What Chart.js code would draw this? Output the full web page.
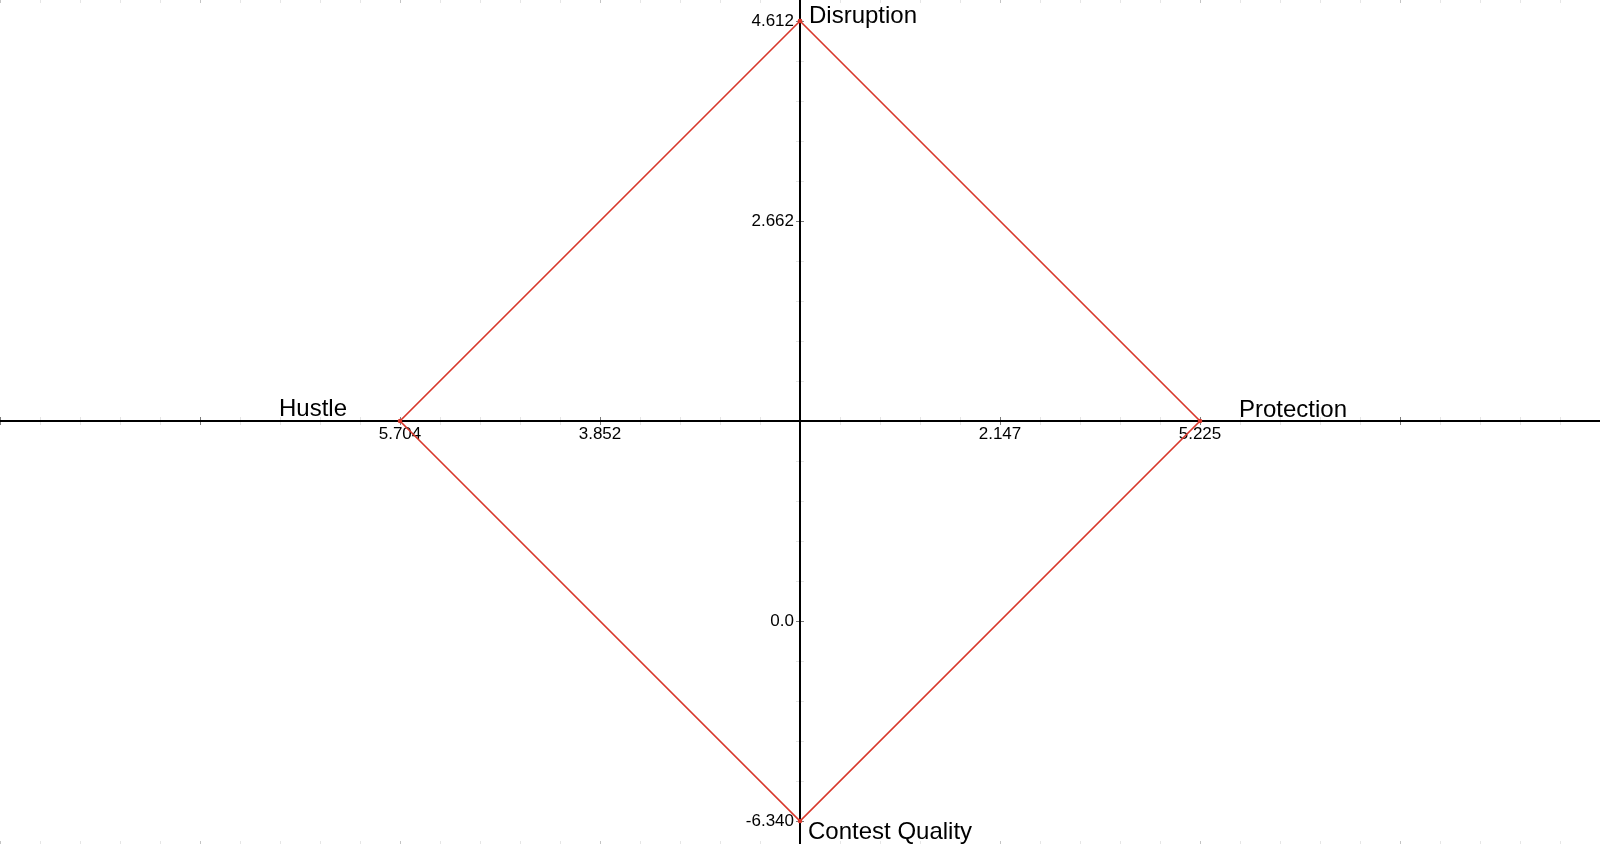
<!DOCTYPE html>
<html>
<head>
<meta charset="utf-8">
<script src="https://cdn.jsdelivr.net/npm/chart.js@4/dist/chart.umd.min.js"></script>
<style>
  html, body { margin: 0; padding: 0; background: #fff; }
  #wrap { width: 1600px; height: 844px; position: relative; }
</style>
</head>
<body>
<div id="wrap"><canvas id="chart"></canvas></div>
<script>
'use strict';
// categories at the four corners, in drawing order
const axisNames  = ['Disruption', 'Protection', 'Contest Quality', 'Hustle'];
const axisScores = [4.612, 5.225, -6.340, 5.704];
// corner position on the plot grid (units)
const cornerX = [0, 2, 0, -2];
const cornerY = [2, 0, -2, 0];

// tick labels on the two axes
const xTickPos    = [-2, -1, 1, 2];
const xTickLabels = ['5.704', '3.852', '2.147', '5.225'];
const yTickPos    = [2, 1, -1, -2];
const yTickLabels = ['4.612', '2.662', '0.0', '-6.340'];

const RED = '#d8382c';
const FONT = '"Liberation Sans", Arial, sans-serif';

// label offsets from each corner (px): [dx, dy], all left aligned on the baseline
const NAME_OFF = {
  'Disruption':      [9, 2],
  'Protection':      [39, -4],
  'Contest Quality': [8, 18],
  'Hustle':          [-121, -5]
};

const pts = axisNames.map((n, i) => ({ x: cornerX[i], y: cornerY[i], name: n, score: axisScores[i] }));
pts.push({ ...pts[0] });

const axesPlugin = {
  id: 'crossAxes',
  beforeDatasetsDraw(chart) {
    const { ctx, chartArea: a, scales: { x, y } } = chart;
    const x0 = x.getPixelForValue(0), y0 = y.getPixelForValue(0);
    ctx.save();

    // minor/major ticks every 0.2 units
    const tick = (horiz, v, major) => {
      ctx.strokeStyle = major ? '#7a7a7a' : '#e4e4e4';
      ctx.lineWidth = 1;
      ctx.beginPath();
      if (horiz) {
        const px = Math.round(x.getPixelForValue(v)) + 0.5;
        ctx.moveTo(px, y0 - 4); ctx.lineTo(px, y0 + 4);
      } else {
        const py = Math.round(y.getPixelForValue(v)) + 0.5;
        ctx.moveTo(x0 - 4, py); ctx.lineTo(x0 + 4, py);
      }
      ctx.stroke();
    };
    for (let i = -20; i <= 20; i++) {
      if (i === 0) continue;
      tick(true, i * 0.2, i % 5 === 0);
    }
    for (let i = -11; i <= 11; i++) {
      if (i === 0) continue;
      tick(false, i * 0.2, i % 5 === 0);
    }

    // faint ticks along top and bottom edges
    for (let i = -20; i <= 20; i++) {
      const px = Math.round(x.getPixelForValue(i * 0.2)) + 0.5;
      ctx.strokeStyle = i % 5 === 0 ? '#c4c4c4' : '#e6e6e6';
      ctx.beginPath();
      ctx.moveTo(px, a.top); ctx.lineTo(px, a.top + 3);
      ctx.moveTo(px, a.bottom - 3); ctx.lineTo(px, a.bottom);
      ctx.stroke();
    }

    // the two axis lines
    ctx.strokeStyle = '#000';
    ctx.lineWidth = 2;
    ctx.beginPath();
    ctx.moveTo(a.left, y0); ctx.lineTo(a.right, y0);
    ctx.moveTo(x0, a.top); ctx.lineTo(x0, a.bottom);
    ctx.stroke();

    // tick labels
    ctx.fillStyle = '#000';
    ctx.font = '17px ' + FONT;
    ctx.textAlign = 'center';
    ctx.textBaseline = 'top';
    xTickPos.forEach((v, i) => ctx.fillText(xTickLabels[i], x.getPixelForValue(v), y0 + 5));
    ctx.textAlign = 'right';
    ctx.textBaseline = 'middle';
    yTickPos.forEach((v, i) => ctx.fillText(yTickLabels[i], x0 - 6, y.getPixelForValue(v)));

    // corner names
    ctx.font = '24px ' + FONT;
    ctx.textAlign = 'left';
    ctx.textBaseline = 'alphabetic';
    axisNames.forEach((n, i) => {
      const off = NAME_OFF[n];
      ctx.fillText(n, x.getPixelForValue(cornerX[i]) + off[0], y.getPixelForValue(cornerY[i]) + off[1]);
    });
    ctx.restore();
  }
};

new Chart(document.getElementById('chart'), {
  type: 'scatter',
  data: {
    datasets: [{
      data: pts,
      showLine: true,
      borderColor: RED,
      backgroundColor: RED,
      borderWidth: 1.6,
      pointRadius: 1.5,
      pointHoverRadius: 3,
      tension: 0,
      clip: false
    }]
  },
  options: {
    responsive: true,
    maintainAspectRatio: false,
    animation: false,
    layout: { padding: 0, autoPadding: false },
    plugins: {
      legend: { display: false },
      tooltip: { callbacks: { label: c => ` ${c.raw.name}: ${c.raw.score}` } }
    },
    scales: {
      x: { type: 'linear', min: -4, max: 4, display: false },
      y: { type: 'linear', min: -2.115, max: 2.105, display: false }
    }
  },
  plugins: [axesPlugin]
});
</script>
</body>
</html>
